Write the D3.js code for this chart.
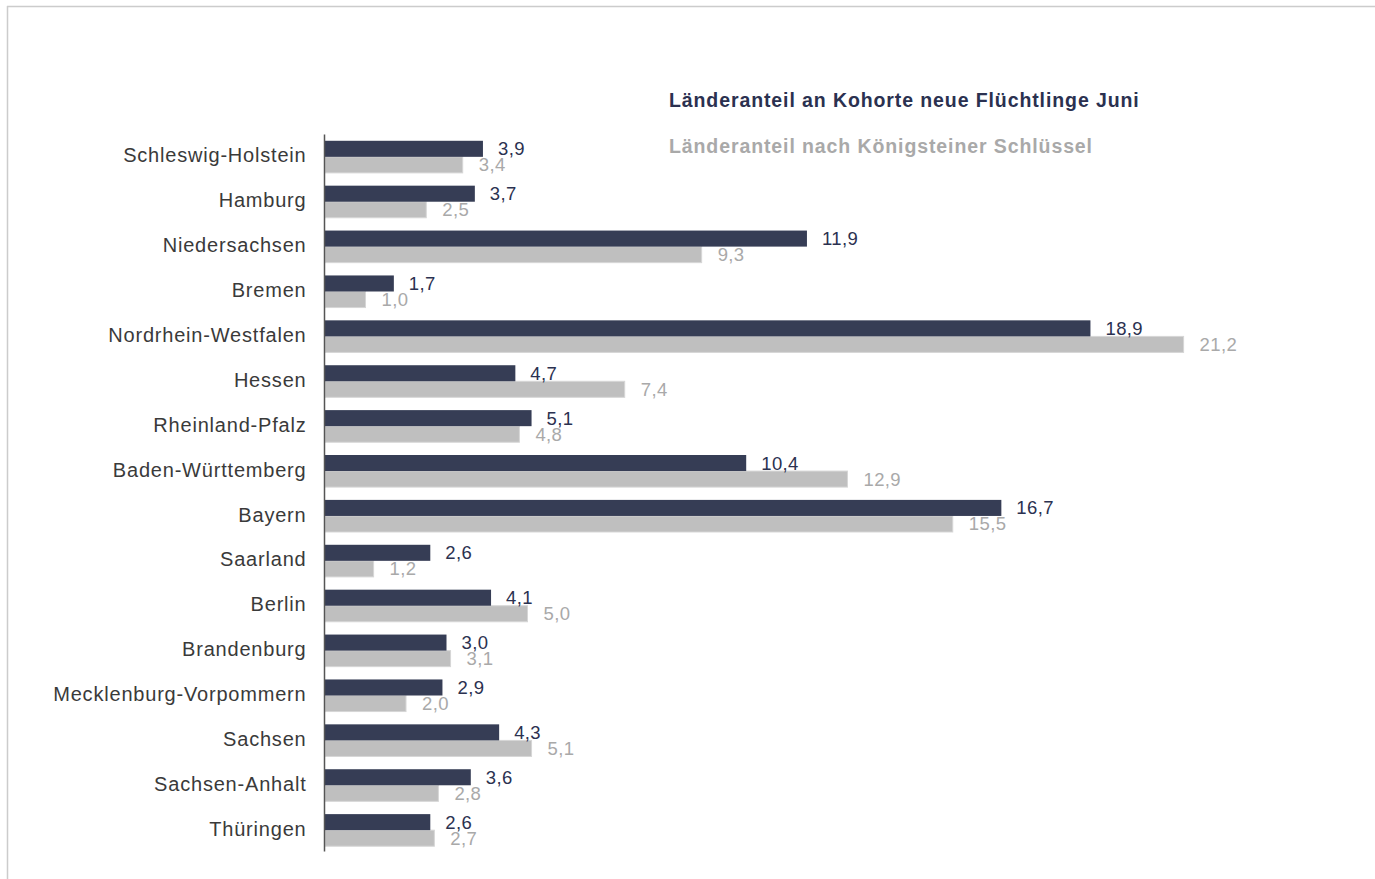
<!DOCTYPE html>
<html>
<head>
<meta charset="utf-8">
<script src="https://cdn.jsdelivr.net/npm/d3@7"></script>
<style>
  html, body { margin: 0; padding: 0; background: #fff; }
  svg { display: block; font-family: "Liberation Sans", Arial, sans-serif; }
</style>
</head>
<body>
<svg id="chart" width="1375" height="879"></svg>
<script>
// Bundesländer, top to bottom
const categories = [
  "Schleswig-Holstein", "Hamburg", "Niedersachsen", "Bremen",
  "Nordrhein-Westfalen", "Hessen", "Rheinland-Pfalz", "Baden-Württemberg",
  "Bayern", "Saarland", "Berlin", "Brandenburg",
  "Mecklenburg-Vorpommern", "Sachsen", "Sachsen-Anhalt", "Thüringen"
];
// Share of the June cohort of new refugees (%)
const kohorteJuni = [3.9, 3.7, 11.9, 1.7, 18.9, 4.7, 5.1, 10.4, 16.7, 2.6, 4.1, 3.0, 2.9, 4.3, 3.6, 2.6];
// Share according to the Königstein key (%)
const koenigstein = [3.4, 2.5, 9.3, 1.0, 21.2, 7.4, 4.8, 12.9, 15.5, 1.2, 5.0, 3.1, 2.0, 5.1, 2.8, 2.7];
const seriesNames = [
  "Länderanteil an Kohorte neue Flüchtlinge Juni",
  "Länderanteil nach Königsteiner Schlüssel"
];

const darkColor = "#363d55";
const greyColor = "#bfbfbf";
const darkText = "#2b3150";
const greyText = "#a9a9a9";

const svg = d3.select("#chart");

// frame lines (top and left)
svg.append("line").attr("x1", 7).attr("x2", 1375).attr("y1", 6.5).attr("y2", 6.5)
  .attr("stroke", "#cccccc").attr("stroke-width", 1.5);
svg.append("line").attr("x1", 7.5).attr("x2", 7.5).attr("y1", 6).attr("y2", 879)
  .attr("stroke", "#cccccc").attr("stroke-width", 1.5);

const x0 = 325;
const x = d3.scaleLinear().domain([0, 21.2]).range([x0, x0 + 21.2 * 40.5]);

const y = d3.scaleBand().domain(categories).range([134.5, 852.5]).paddingInner(0.285).paddingOuter(0.14);
const sub = d3.scaleBand().domain([0, 1]).range([0, y.bandwidth()]);

const fmt = v => d3.format(".1f")(v).replace(".", ",");

const rows = categories.map((c, i) => ({ c, a: kohorteJuni[i], b: koenigstein[i] }));

const g = svg.append("g");

// grey bars (Königsteiner Schlüssel)
g.selectAll("rect.grey").data(rows).join("rect")
  .attr("class", "grey")
  .attr("x", x(0))
  .attr("y", d => y(d.c) + sub(1))
  .attr("width", d => x(d.b) - x(0))
  .attr("height", sub.bandwidth())
  .attr("fill", greyColor)
  .attr("stroke", "#d6d6d6").attr("stroke-width", 1);

// dark bars (Kohorte Juni)
g.selectAll("rect.dark").data(rows).join("rect")
  .attr("class", "dark")
  .attr("x", x(0))
  .attr("y", d => y(d.c) + sub(0))
  .attr("width", d => x(d.a) - x(0))
  .attr("height", sub.bandwidth())
  .attr("fill", darkColor);

// value labels
g.selectAll("text.dv").data(rows).join("text")
  .attr("class", "dv")
  .attr("x", d => x(d.a) + 15)
  .attr("y", d => y(d.c) + sub(0) + sub.bandwidth() - 1.5)
  .attr("font-size", 18.5).attr("letter-spacing", 0.4).attr("fill", darkText)
  .text(d => fmt(d.a));
g.selectAll("text.gv").data(rows).join("text")
  .attr("class", "gv")
  .attr("x", d => x(d.b) + 16)
  .attr("y", d => y(d.c) + sub(1) + sub.bandwidth() - 1.5)
  .attr("font-size", 18.5).attr("letter-spacing", 0.4).attr("fill", greyText)
  .text(d => fmt(d.b));

// category axis
const yAxis = d3.axisLeft(y).tickSize(0).tickPadding(18);
const ax = svg.append("g").attr("transform", `translate(${x0 - 0.5},0)`).call(yAxis);
ax.select(".domain").attr("stroke", "#555").attr("stroke-width", 1.5)
  .attr("d", "M0,134.5V851.5");
ax.selectAll("text").attr("font-size", 20).attr("letter-spacing", 0.8).attr("fill", "#3a3a3a")
  .attr("font-family", "\"Liberation Sans\", Arial, sans-serif")
  .attr("dy", "0.28em");

// legend
const legend = svg.append("g");
legend.selectAll("text").data(seriesNames).join("text")
  .attr("x", 669)
  .attr("y", (d, i) => 107 + i * 46)
  .attr("font-size", 19.5).attr("font-weight", "bold").attr("letter-spacing", 0.9)
  .attr("fill", (d, i) => i === 0 ? darkText : greyText)
  .text(d => d);
</script>
</body>
</html>
